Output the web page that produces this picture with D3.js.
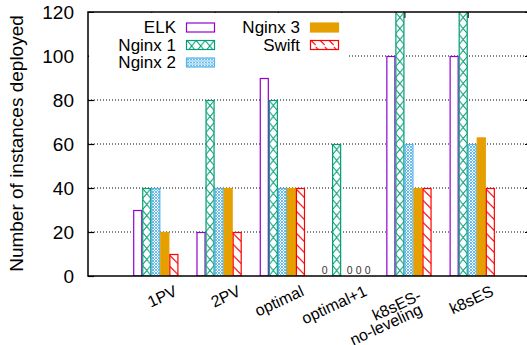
<!DOCTYPE html>
<html>
<head>
<meta charset="utf-8">
<script src="https://cdn.jsdelivr.net/npm/d3@7"></script>
<style>
  body { margin: 0; background: #fff; }
  svg { display: block; font-family: "Liberation Sans", Arial, sans-serif; }
</style>
</head>
<body>
<svg id="chart" width="527" height="345"></svg>
<script>
// categories along x, one value per category in each series
const categories = ["1PV", "2PV", "optimal", "optimal+1", "k8sES-\nno-leveling", "k8sES"];
const seriesNames = ["ELK", "Nginx 1", "Nginx 2", "Nginx 3", "Swift"];
const elk = [30, 20, 90, 0, 100, 100];
const nginx1 = [40, 80, 80, 60, 140, 140];
const nginx2 = [40, 40, 40, 0, 60, 60];
const nginx3 = [20, 40, 40, 0, 40, 63];
const swift = [10, 20, 40, 0, 40, 40];
const yTicks = [0, 20, 40, 60, 80, 100, 120];

const seriesValues = [elk, nginx1, nginx2, nginx3, swift];
const colors = ["#9400d3", "#009e73", "#56b4e9", "#e69f00", "#ff0000"];

const svg = d3.select("#chart");
const plotLeft = 88, plotTop = 12, plotBottom = 276, plotRight = 531;

const x = d3.scaleLinear().domain([-1, 6]).range([plotLeft, plotRight]);
const y = d3.scaleLinear().domain([0, 120]).range([plotBottom, plotTop]);

// gnuplot style clustered histogram: 5 boxes + gap of 2
const bw = 1 / 7;
const bwPx = x(bw) - x(0);
const barX = (i, j) => x(i + (j - 2) * bw);

// fill patterns
const defs = svg.append("defs");
defs.append("clipPath").attr("id", "plotClip")
  .append("rect").attr("x", plotLeft).attr("y", plotTop)
  .attr("width", plotRight - plotLeft).attr("height", plotBottom - plotTop);

const p1 = defs.append("pattern").attr("id", "pat1")
  .attr("patternUnits", "userSpaceOnUse")
  .attr("x", x(-bw)).attr("y", plotBottom)
  .attr("width", bwPx).attr("height", 11);
p1.append("rect").attr("width", bwPx).attr("height", 11).attr("fill", "#fff");
p1.append("path").attr("d", `M0,0L${bwPx},11M${bwPx},0L0,11`)
  .attr("stroke", colors[1]).attr("stroke-width", 1.1).attr("fill", "none");

const p2 = defs.append("pattern").attr("id", "pat2")
  .attr("patternUnits", "userSpaceOnUse")
  .attr("width", 3).attr("height", 3);
p2.append("rect").attr("width", 3).attr("height", 3).attr("fill", "#fff");
p2.append("path").attr("d", "M0,0L3,3M3,0L0,3")
  .attr("stroke", colors[2]).attr("stroke-width", 0.9).attr("fill", "none");

const p4 = defs.append("pattern").attr("id", "pat4")
  .attr("patternUnits", "userSpaceOnUse")
  .attr("x", x(2 * bw)).attr("y", plotBottom)
  .attr("width", bwPx).attr("height", 11);
p4.append("rect").attr("width", bwPx).attr("height", 11).attr("fill", "#fff");
p4.append("path").attr("d", `M0,1L${bwPx},10`)
  .attr("stroke", colors[4]).attr("stroke-width", 1.1).attr("fill", "none");

const fills = ["#fff", "url(#pat1)", "url(#pat2)", colors[3], "url(#pat4)"];

// grid
svg.append("g")
  .selectAll("line")
  .data(yTicks.filter(d => d > 0 && d < 120))
  .join("line")
  .attr("x1", plotLeft).attr("x2", plotRight)
  .attr("y1", d => y(d)).attr("y2", d => y(d))
  .attr("stroke", "#000").attr("stroke-width", 1)
  .attr("stroke-dasharray", "1,2");

// bars
const bars = [];
seriesValues.forEach((vals, j) => vals.forEach((v, i) => bars.push({ i, j, v })));

svg.append("g").attr("clip-path", "url(#plotClip)")
  .selectAll("rect")
  .data(bars.filter(d => d.v > 0))
  .join("rect")
  .attr("x", d => barX(d.i, d.j) + 0.5)
  .attr("y", d => y(d.v) + 0.5)
  .attr("width", bwPx - 1)
  .attr("height", d => y(0) - y(d.v) - 0.5)
  .attr("fill", d => fills[d.j])
  .attr("stroke", d => colors[d.j])
  .attr("stroke-width", 1.2);

// zero labels
svg.append("g")
  .selectAll("text")
  .data(bars.filter(d => d.v === 0))
  .join("text")
  .attr("x", d => barX(d.i, d.j) + bwPx / 2 + (d.j === 0 ? -3 : 4))
  .attr("y", y(0) - 2)
  .attr("text-anchor", "middle")
  .attr("font-size", 10.5)
  .attr("fill", "#333")
  .text("0");

// y axis (ticks inside)
const yAxis = svg.append("g")
  .attr("transform", `translate(${plotLeft},0)`)
  .call(d3.axisLeft(y).tickValues(yTicks).tickSizeInner(-6).tickSizeOuter(0).tickPadding(14));
yAxis.select(".domain").remove();
yAxis.selectAll("text").attr("font-size", 19).attr("fill", "#000").attr("font-family", null);
yAxis.selectAll("line").attr("stroke-width", 1.2);

// mirrored y ticks on the right
svg.append("g")
  .attr("transform", `translate(${plotRight},0)`)
  .call(d3.axisRight(y).tickValues(yTicks).tickSizeInner(-6).tickSizeOuter(0).tickFormat(""))
  .call(g => g.select(".domain").remove());

// mirrored x ticks on top
svg.append("g")
  .attr("transform", `translate(0,${plotTop})`)
  .call(d3.axisTop(x).tickValues(d3.range(categories.length)).tickSizeInner(-6).tickSizeOuter(0).tickFormat(""))
  .call(g => g.select(".domain").remove());

// border
svg.append("rect")
  .attr("x", plotLeft).attr("y", plotTop)
  .attr("width", plotRight - plotLeft).attr("height", plotBottom - plotTop)
  .attr("fill", "none").attr("stroke", "#000").attr("stroke-width", 1.5);

// x labels, rotated
const angle = -25;
svg.append("g")
  .selectAll("g")
  .data(categories)
  .join("g")
  .attr("transform", (d, i) => `translate(${x(i) + 27},295) rotate(${angle})`)
  .each(function (d) {
    const lines = d.split("\n");
    const t = d3.select(this).append("text")
      .attr("text-anchor", "end")
      .attr("font-size", 16)
      .attr("fill", "#000");
    lines.forEach((ln, k) => {
      t.append("tspan")
        .attr("x", lines.length > 1 ? -10 - k * 5 : 0)
        .attr("y", lines.length > 1 ? k * 13 : 0)
        .text(ln);
    });
  });

// y label
svg.append("text")
  .attr("transform", `translate(23,${(10 + 277) / 2}) rotate(-90)`)
  .attr("text-anchor", "middle")
  .attr("font-size", 19)
  .text("Number of instances deployed");

// legend
svg.append("rect")
  .attr("x", plotLeft + 1).attr("y", plotTop + 1)
  .attr("width", 260).attr("height", 58)
  .attr("fill", "#fff");

const legendPos = [
  { col: 0, row: 0 }, { col: 0, row: 1 }, { col: 0, row: 2 },
  { col: 1, row: 0 }, { col: 1, row: 1 }
];
const colText = [176, 300];
const legend = svg.append("g")
  .selectAll("g")
  .data(seriesNames)
  .join("g")
  .attr("transform", (d, j) => `translate(${colText[legendPos[j].col]},${27.5 + legendPos[j].row * 17.5})`);
legend.append("text")
  .attr("text-anchor", "end")
  .attr("dy", "0.35em")
  .attr("font-size", 17)
  .text(d => d);
legend.append("rect")
  .attr("x", 10.5).attr("y", -4.5)
  .attr("width", 28).attr("height", 9)
  .attr("fill", (d, j) => fills[j])
  .attr("stroke", (d, j) => colors[j])
  .attr("stroke-width", 1.2);
</script>
</body>
</html>
